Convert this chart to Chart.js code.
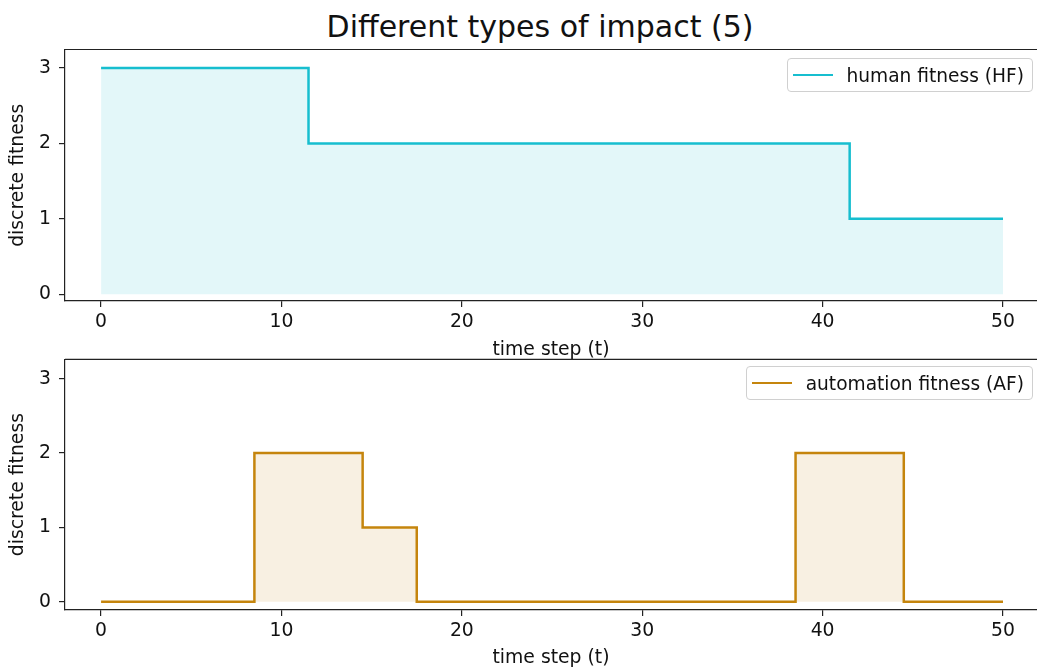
<!DOCTYPE html>
<html>
<head>
<meta charset="utf-8">
<script src="https://cdn.jsdelivr.net/npm/chart.js@4/dist/chart.umd.min.js"></script>
<style>
  html, body { margin: 0; padding: 0; background: #fff; }
  body { width: 1037px; height: 670px; overflow: hidden; position: relative; font-family: "DejaVu Sans", sans-serif; }
  canvas { position: absolute; left: 0; }
  #title { position: absolute; top: 12px; left: 0; width: 1080px; text-align: center; font-size: 30px; line-height: 30px; color: #111; white-space: nowrap; }
  .legend { position: absolute; display: flex; align-items: center; box-sizing: border-box; height: 34px;
            padding: 0 8px 0 5px; border: 1px solid #d0d0d0; border-radius: 4px; background: rgba(255,255,255,0.85);
            font-size: 18.6px; color: #111; white-space: nowrap; }
  .legend .sw { display: inline-block; width: 40px; height: 2.5px; margin-right: 14px; }
</style>
</head>
<body>
<div id="title">Different types of impact (5)</div>
<canvas id="hfChart" width="1037" height="361" style="top:0px"></canvas>
<canvas id="afChart" width="1037" height="330" style="top:340px"></canvas>
<div class="legend" style="top:58px; right:4px"><span class="sw" style="background:#17becf"></span><span>human fitness (HF)</span></div>
<div class="legend" style="top:366px; right:4px"><span class="sw" style="background:#c5850d"></span><span>automation fitness (AF)</span></div>
<script>
// time steps t = 0 .. 50
const timeSteps = [0,1,2,3,4,5,6,7,8,9,10,11,12,13,14,15,16,17,18,19,20,21,22,23,24,25,
                   26,27,28,29,30,31,32,33,34,35,36,37,38,39,40,41,42,43,44,45,46,47,48,49,50];

// human fitness per time step
const humanFitness = [3,3,3,3,3,3,3,3,3,3,3,3,
                      2,2,2,2,2,2,2,2,2,2,2,2,2,2,2,2,2,2,2,2,2,2,2,2,2,2,2,2,2,2,
                      1,1,1,1,1,1,1,1,1];

// automation fitness per time step
const automationFitness = [0,0,0,0,0,0,0,0,0,
                           2,2,2,2,2,2,
                           1,1,1,
                           0,0,0,0,0,0,0,0,0,0,0,0,0,0,0,0,0,0,0,0,0,
                           2,2,2,2,2,2,
                           0,0,0,0,0,0];

const xTickValues = [0, 10, 20, 30, 40, 50];
const yTickValues = [0, 1, 2, 3];

const FONT = 'DejaVu Sans';
const TEXT_SIZE = 18.8;
const INK = '#111';
const AXIS = '#222';

// top spine drawn over the fill
const framePlugin = {
  id: 'frame',
  afterDatasetsDraw(chart) {
    const a = chart.chartArea, ctx = chart.ctx;
    ctx.save();
    ctx.strokeStyle = AXIS;
    ctx.lineWidth = 1.2;
    ctx.beginPath();
    ctx.moveTo(a.left, a.top);
    ctx.lineTo(a.right + 2, a.top);
    ctx.stroke();
    ctx.restore();
  }
};

function makeChart(id, values, lineColor, fillColor, yMin, yMax, padTop, padBottom, xHeight) {
  const points = timeSteps.map((t, i) => ({ x: t, y: values[i] }));
  return new Chart(document.getElementById(id), {
    type: 'line',
    data: {
      datasets: [{
        data: points,
        borderColor: lineColor,
        backgroundColor: fillColor,
        borderWidth: 2.5,
        borderJoinStyle: 'miter',
        borderCapStyle: 'butt',
        pointRadius: 0,
        stepped: 'middle',
        fill: 'origin'
      }]
    },
    plugins: [framePlugin],
    options: {
      responsive: false,
      animation: false,
      devicePixelRatio: 1,
      layout: { padding: { top: padTop, left: 0, right: 0, bottom: padBottom } },
      plugins: { legend: { display: false }, tooltip: { enabled: false } },
      scales: {
        x: {
          type: 'linear', min: -2, max: 51.885,
          afterBuildTicks: s => { s.ticks = xTickValues.map(v => ({ value: v })); },
          afterFit: s => { s.height = xHeight; },
          grid: { drawOnChartArea: false, drawTicks: true, tickLength: 6, color: AXIS, lineWidth: 1.2 },
          border: { display: true, color: AXIS, width: 1.2 },
          ticks: { padding: 4, color: INK, maxRotation: 0, autoSkip: false, font: { family: FONT, size: TEXT_SIZE } },
          title: { display: true, text: 'time step (t)', color: INK, font: { family: FONT, size: TEXT_SIZE }, padding: { top: 0, bottom: 0 } }
        },
        y: {
          type: 'linear', min: yMin, max: yMax,
          afterBuildTicks: s => { s.ticks = yTickValues.map(v => ({ value: v })); },
          afterFit: s => { s.width = 65; },
          grid: { drawOnChartArea: false, drawTicks: true, tickLength: 6, color: AXIS, lineWidth: 1.2 },
          border: { display: true, color: AXIS, width: 1.2 },
          ticks: { padding: 8, color: INK, font: { family: FONT, size: TEXT_SIZE } },
          title: { display: true, text: 'discrete fitness', color: INK, font: { family: FONT, size: TEXT_SIZE }, padding: { top: 7, bottom: 0 } }
        }
      }
    }
  });
}

makeChart('hfChart', humanFitness, '#17becf', 'rgba(23,190,207,0.12)', -0.09, 3.245, 49.5, 0, 60);
makeChart('afChart', automationFitness, '#c5850d', 'rgba(197,133,13,0.12)', -0.11, 3.26, 17, 1, 59);
</script>
</body>
</html>
